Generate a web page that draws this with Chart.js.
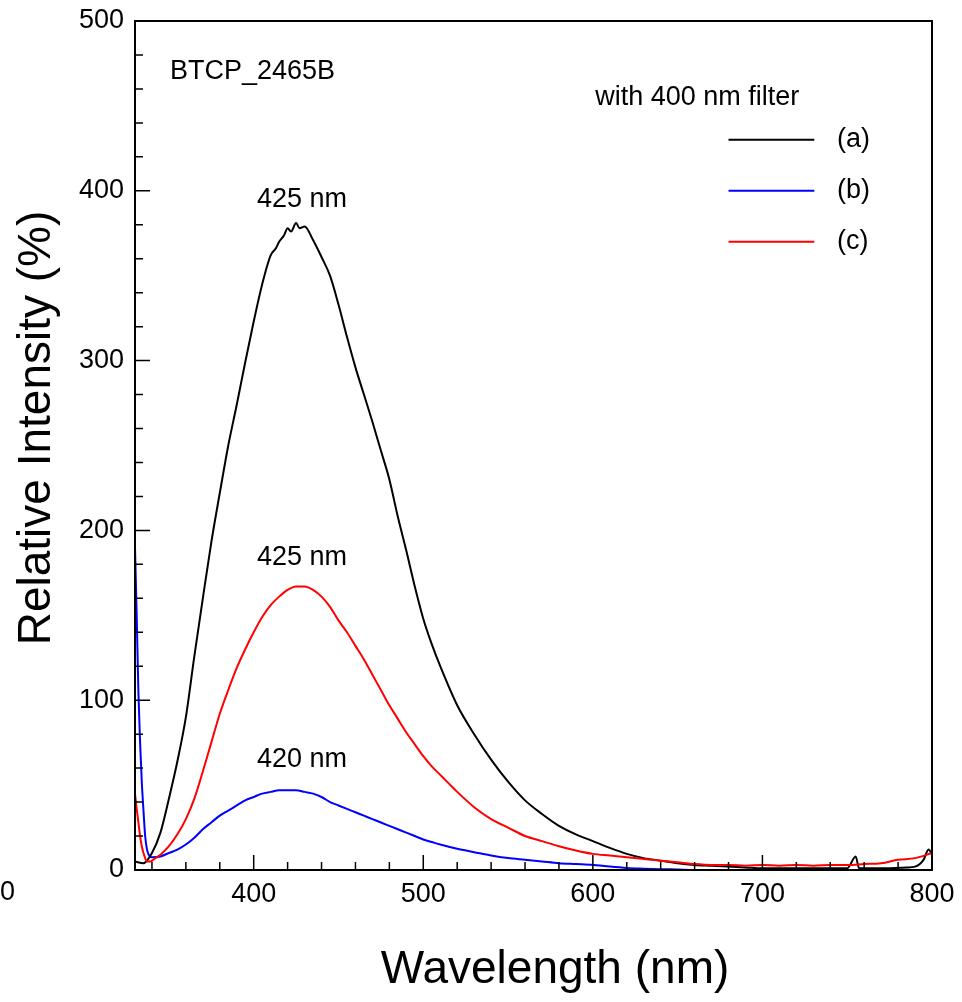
<!DOCTYPE html>
<html>
<head>
<meta charset="utf-8">
<script src="https://cdn.jsdelivr.net/npm/chart.js@4.4.1/dist/chart.umd.min.js"></script>
<style>
  body { margin: 0; background: #fff; }
  #wrap { width: 962px; height: 1002px; position: relative; }
</style>
</head>
<body>
<div id="wrap"><canvas id="chart"></canvas></div>
<script>
// (a) black
const wlA = [330, 335, 340, 345, 350, 355, 360, 365, 370, 375, 380, 385, 390, 395, 400, 405, 410, 413, 415, 418, 420, 422, 425, 427, 430, 435, 440, 445, 450, 455, 460, 465, 470, 475, 480, 485, 490, 495, 500, 505, 510, 520, 530, 540, 550, 560, 570, 580, 590, 600, 610, 620, 630, 640, 650, 660, 670, 680, 690, 700, 720, 740, 750, 755, 757, 770, 785, 790, 795, 798, 800];
const valA = [5, 4, 10, 22, 42, 64, 90, 126, 160, 193, 222, 250, 274, 299, 323, 345, 362, 366, 370, 374, 378, 376, 381, 378, 379, 371, 361, 350, 333, 314, 296, 280, 264, 247, 230, 208, 188, 167, 148, 133, 120, 97, 80, 65, 52, 41, 33, 26, 21, 17, 13, 9.5, 7, 5.5, 4, 3, 2.5, 2, 1.5, 1, 1, 1, 1, 8, 1, 1, 1.5, 2, 6, 12, 9];

// (b) blue
const wlB = [330, 331, 332, 333, 334, 335, 336, 338, 340, 345, 350, 355, 360, 365, 370, 375, 380, 385, 390, 395, 400, 405, 410, 415, 420, 425, 430, 435, 440, 445, 450, 455, 460, 465, 470, 475, 480, 485, 490, 495, 500, 505, 510, 520, 530, 540, 550, 560, 570, 580, 590, 600, 610, 620, 630, 640, 650, 660, 690];
const valB = [190, 150, 105, 75, 52, 35, 20, 9, 7.5, 8, 10, 12, 15, 19, 24, 28, 32, 35, 38, 41, 43, 45, 46, 47, 47, 47, 46, 45, 43, 40, 38, 36, 34, 32, 30, 28, 26, 24, 22, 20, 18, 16.5, 15, 12.5, 10.5, 8.5, 7, 6, 5, 4, 3.5, 3, 2, 1.2, 0.8, 0.5, 0.3, 0, 0];

// (c) red
const wlC = [330, 331, 332, 333, 334, 335, 336, 337, 339, 342, 345, 350, 355, 360, 365, 370, 375, 380, 385, 390, 395, 400, 405, 410, 415, 420, 425, 430, 435, 440, 445, 450, 455, 460, 465, 470, 475, 480, 485, 490, 495, 500, 505, 510, 515, 520, 530, 540, 550, 560, 570, 580, 590, 600, 610, 620, 630, 640, 650, 660, 670, 680, 690, 700, 710, 720, 730, 740, 750, 760, 770, 780, 790, 800];
const valC = [45, 36, 28, 20, 14, 10, 7, 5, 5, 7, 9, 14, 21, 30, 42, 58, 75, 92, 106, 119, 130, 140, 149, 156, 161, 165, 167, 167, 165, 161, 155, 147, 140, 132, 124, 115, 106, 97, 89, 81, 74, 67, 61, 56, 51, 46, 37, 30, 25, 20, 17, 14, 11.5, 9.5, 8.5, 7.5, 6.5, 5.5, 4.5, 3.5, 3, 3, 2.5, 3, 2.5, 3, 2.5, 3, 3, 3.5, 4, 6, 7, 10];

const xTicks = [400, 500, 600, 700, 800];
const yTicks = [0, 100, 200, 300, 400, 500];
const seriesNames = ['(a)', '(b)', '(c)'];
const seriesColors = ['#000000', '#0000ff', '#ff0000'];
const peakLabels = ['425 nm', '420 nm', '425 nm'];

const FONT = '"Liberation Sans", Arial, Helvetica, sans-serif';

function toPoints(xs, ys) {
    return xs.map((x, i) => ({ x: x, y: ys[i] }));
}

// frame, inward ticks, titles and notes
const decorations = {
    id: 'decorations',
    afterDraw(chart) {
        const ctx = chart.ctx;
        const area = chart.chartArea;
        const xs = chart.scales.x;
        const ys = chart.scales.y;
        ctx.save();

        ctx.strokeStyle = '#000';
        ctx.lineWidth = 2;
        ctx.strokeRect(area.left, area.top, area.right - area.left, area.bottom - area.top);

        ctx.lineWidth = 1.5;
        ctx.beginPath();
        for (let v = 340; v < 800; v += 20) {
            const px = xs.getPixelForValue(v);
            const len = v % 100 === 0 ? 15 : 8;
            ctx.moveTo(px, area.bottom);
            ctx.lineTo(px, area.bottom - len);
        }
        for (let v = 20; v < 500; v += 20) {
            const py = ys.getPixelForValue(v);
            const len = v % 100 === 0 ? 15 : 8;
            ctx.moveTo(area.left, py);
            ctx.lineTo(area.left + len, py);
        }
        ctx.stroke();

        ctx.fillStyle = '#000';
        ctx.font = '46px ' + FONT;
        ctx.textAlign = 'center';
        ctx.textBaseline = 'middle';
        ctx.fillText('Wavelength (nm)', 555, 970);
        ctx.save();
        ctx.translate(37, 428);
        ctx.rotate(-Math.PI / 2);
        ctx.fillText('Relative Intensity (%)', 0, 0);
        ctx.restore();

        ctx.font = '27px ' + FONT;
        ctx.textAlign = 'right';
        ctx.fillText('0', 15, 893);

        // peak notes
        ctx.textAlign = 'center';
        const peakY = [395, 65, 184];
        peakLabels.forEach((t, i) => {
            ctx.fillText(t, xs.getPixelForValue(428.5), ys.getPixelForValue(peakY[i]));
        });

        ctx.textAlign = 'left';
        ctx.fillText('BTCP_2465B', xs.getPixelForValue(350.6), ys.getPixelForValue(470));
        ctx.fillText('with 400 nm filter', xs.getPixelForValue(601.4), ys.getPixelForValue(455));

        // legend
        const legY = [430, 400, 370];
        seriesNames.forEach((name, i) => {
            const py = ys.getPixelForValue(legY[i]);
            ctx.strokeStyle = seriesColors[i];
            ctx.lineWidth = 2;
            ctx.beginPath();
            ctx.moveTo(xs.getPixelForValue(680), py);
            ctx.lineTo(xs.getPixelForValue(730.6), py);
            ctx.stroke();
            ctx.fillText(name, xs.getPixelForValue(744), py);
        });

        ctx.restore();
    }
};

new Chart(document.getElementById('chart'), {
    type: 'line',
    data: {
        datasets: [
            { label: '(a)', data: toPoints(wlA, valA), borderColor: seriesColors[0], order: 1 },
            { label: '(b)', data: toPoints(wlB, valB), borderColor: seriesColors[1], order: 2 },
            { label: '(c)', data: toPoints(wlC, valC), borderColor: seriesColors[2], order: 0 }
        ]
    },
    options: {
        responsive: true,
        maintainAspectRatio: false,
        animation: false,
        datasets: {
            line: { borderWidth: 2, pointRadius: 0, cubicInterpolationMode: 'monotone', fill: false }
        },
        layout: { padding: { left: 0, right: 30, top: 21, bottom: 0 } },
        plugins: { legend: { display: false }, tooltip: { enabled: false } },
        scales: {
            x: {
                type: 'linear',
                min: 330,
                max: 800,
                grid: { display: false, drawTicks: false },
                border: { display: false },
                afterBuildTicks: s => { s.ticks = xTicks.map(v => ({ value: v })); },
                afterFit: s => { s.height = 132; s.paddingLeft = 0; s.paddingRight = 0; },
                ticks: { color: '#000', font: { family: FONT, size: 27 }, padding: 8, maxRotation: 0, autoSkip: false }
            },
            y: {
                min: 0,
                max: 500,
                grid: { display: false, drawTicks: false },
                border: { display: false },
                afterBuildTicks: s => { s.ticks = yTicks.map(v => ({ value: v })); },
                afterFit: s => { s.width = 135; s.paddingTop = 0; s.paddingBottom = 0; },
                ticks: { color: '#000', font: { family: FONT, size: 27 }, padding: 11 }
            }
        }
    },
    plugins: [decorations]
});
</script>
</body>
</html>
